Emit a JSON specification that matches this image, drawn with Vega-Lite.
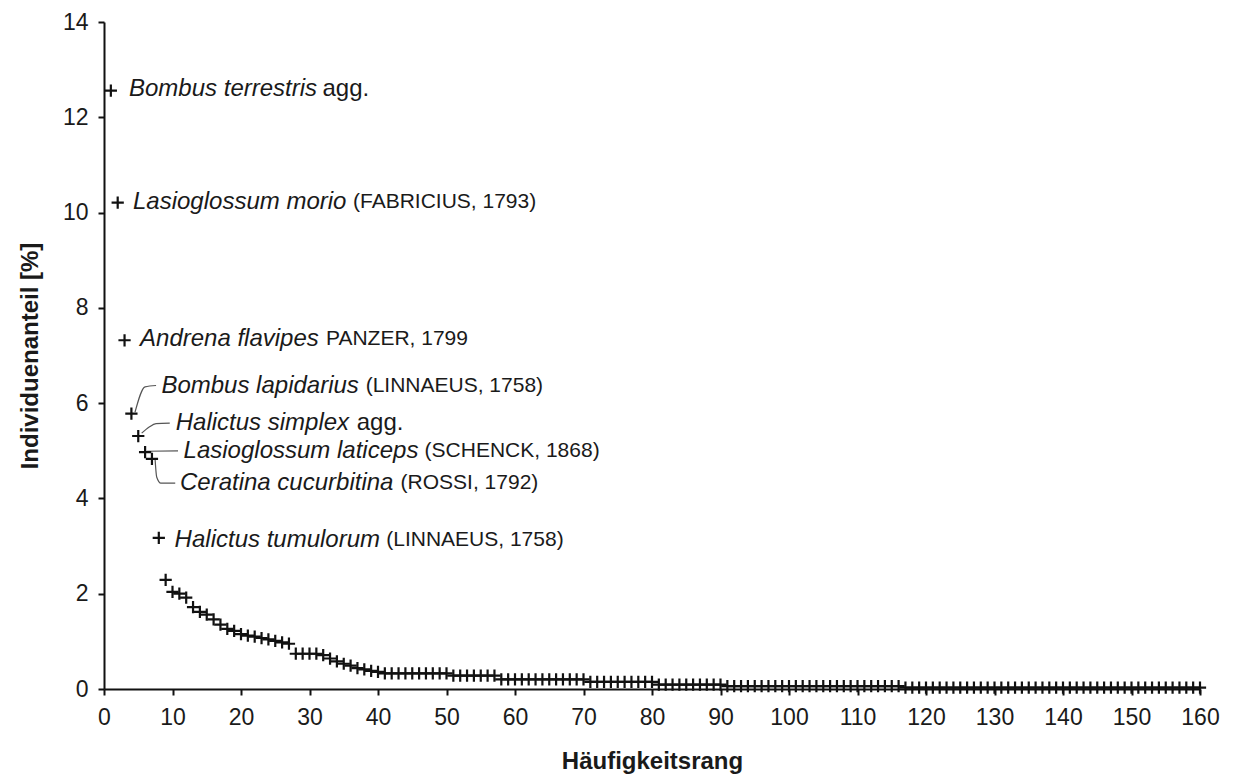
{
  "$schema": "https://vega.github.io/schema/vega-lite/v6.json",
  "width": 1096,
  "height": 667,
  "autosize": "none",
  "padding": {"left": 104, "top": 22, "right": 34, "bottom": 86},
  "background": "white",
  "config": {
    "view": {"stroke": null},
    "font": "Liberation Sans",
    "axis": {
      "grid": false,
      "domainColor": "#111111",
      "domainWidth": 2,
      "tickColor": "#111111",
      "tickWidth": 2,
      "tickSize": 6,
      "labelFlush": false,
      "labelFont": "Liberation Sans",
      "labelFontSize": 23,
      "labelColor": "#1a1a1a",
      "titleFont": "Liberation Sans",
      "titleFontSize": 24,
      "titleFontWeight": "bold",
      "titleColor": "#1a1a1a"
    }
  },
  "datasets": {
    "ranks": [
      {"r":1,"p":12.56},{"r":2,"p":10.21},{"r":3,"p":7.32},{"r":4,"p":5.78},{"r":5,"p":5.31},
      {"r":6,"p":4.97},{"r":7,"p":4.83},{"r":8,"p":3.17},{"r":9,"p":2.29},{"r":10,"p":2.04},
      {"r":11,"p":2.0},{"r":12,"p":1.92},{"r":13,"p":1.72},{"r":14,"p":1.62},{"r":15,"p":1.56},
      {"r":16,"p":1.46},{"r":17,"p":1.35},{"r":18,"p":1.26},{"r":19,"p":1.22},{"r":20,"p":1.15},
      {"r":21,"p":1.12},{"r":22,"p":1.1},{"r":23,"p":1.07},{"r":24,"p":1.04},{"r":25,"p":1.01},
      {"r":26,"p":0.98},{"r":27,"p":0.95},{"r":28,"p":0.74},{"r":29,"p":0.74},{"r":30,"p":0.74},
      {"r":31,"p":0.74},{"r":32,"p":0.71},{"r":33,"p":0.64},{"r":34,"p":0.58},{"r":35,"p":0.53},
      {"r":36,"p":0.49},{"r":37,"p":0.44},{"r":38,"p":0.41},{"r":39,"p":0.38},{"r":40,"p":0.36},
      {"r":41,"p":0.33},{"r":42,"p":0.33},{"r":43,"p":0.33},{"r":44,"p":0.33},{"r":45,"p":0.33},
      {"r":46,"p":0.33},{"r":47,"p":0.33},{"r":48,"p":0.33},{"r":49,"p":0.33},{"r":50,"p":0.33},
      {"r":51,"p":0.28},{"r":52,"p":0.28},{"r":53,"p":0.28},{"r":54,"p":0.28},{"r":55,"p":0.28},
      {"r":56,"p":0.28},{"r":57,"p":0.28},{"r":58,"p":0.2},{"r":59,"p":0.2},{"r":60,"p":0.2},
      {"r":61,"p":0.2},{"r":62,"p":0.2},{"r":63,"p":0.2},{"r":64,"p":0.2},{"r":65,"p":0.2},
      {"r":66,"p":0.2},{"r":67,"p":0.2},{"r":68,"p":0.2},{"r":69,"p":0.2},{"r":70,"p":0.2},
      {"r":71,"p":0.15},{"r":72,"p":0.15},{"r":73,"p":0.15},{"r":74,"p":0.15},{"r":75,"p":0.15},
      {"r":76,"p":0.15},{"r":77,"p":0.15},{"r":78,"p":0.15},{"r":79,"p":0.15},{"r":80,"p":0.15},
      {"r":81,"p":0.09},{"r":82,"p":0.09},{"r":83,"p":0.09},{"r":84,"p":0.09},{"r":85,"p":0.09},
      {"r":86,"p":0.09},{"r":87,"p":0.09},{"r":88,"p":0.09},{"r":89,"p":0.09},{"r":90,"p":0.09},
      {"r":91,"p":0.06},{"r":92,"p":0.06},{"r":93,"p":0.06},{"r":94,"p":0.06},{"r":95,"p":0.06},
      {"r":96,"p":0.06},{"r":97,"p":0.06},{"r":98,"p":0.06},{"r":99,"p":0.06},{"r":100,"p":0.06},
      {"r":101,"p":0.06},{"r":102,"p":0.06},{"r":103,"p":0.06},{"r":104,"p":0.06},{"r":105,"p":0.06},
      {"r":106,"p":0.06},{"r":107,"p":0.06},{"r":108,"p":0.06},{"r":109,"p":0.06},{"r":110,"p":0.06},
      {"r":111,"p":0.06},{"r":112,"p":0.06},{"r":113,"p":0.06},{"r":114,"p":0.06},{"r":115,"p":0.06},
      {"r":116,"p":0.06},{"r":117,"p":0.03},{"r":118,"p":0.03},{"r":119,"p":0.03},{"r":120,"p":0.03},
      {"r":121,"p":0.03},{"r":122,"p":0.03},{"r":123,"p":0.03},{"r":124,"p":0.03},{"r":125,"p":0.03},
      {"r":126,"p":0.03},{"r":127,"p":0.03},{"r":128,"p":0.03},{"r":129,"p":0.03},{"r":130,"p":0.03},
      {"r":131,"p":0.03},{"r":132,"p":0.03},{"r":133,"p":0.03},{"r":134,"p":0.03},{"r":135,"p":0.03},
      {"r":136,"p":0.03},{"r":137,"p":0.03},{"r":138,"p":0.03},{"r":139,"p":0.03},{"r":140,"p":0.03},
      {"r":141,"p":0.03},{"r":142,"p":0.03},{"r":143,"p":0.03},{"r":144,"p":0.03},{"r":145,"p":0.03},
      {"r":146,"p":0.03},{"r":147,"p":0.03},{"r":148,"p":0.03},{"r":149,"p":0.03},{"r":150,"p":0.03},
      {"r":151,"p":0.03},{"r":152,"p":0.03},{"r":153,"p":0.03},{"r":154,"p":0.03},{"r":155,"p":0.03},
      {"r":156,"p":0.03},{"r":157,"p":0.03},{"r":158,"p":0.03},{"r":159,"p":0.03},{"r":160,"p":0.03}
    ],
    "labels": [
      {"name":"Bombus terrestris","auth":"agg.","r":3.65,"p":12.6,"ax":31.9},
      {"name":"Lasioglossum morio","auth":"(FABRICIUS, 1793)","r":4.23,"p":10.22,"ax":36.35},
      {"name":"Andrena flavipes","auth":"PANZER, 1799","r":5.26,"p":7.35,"ax":32.4},
      {"name":"Bombus lapidarius","auth":"(LINNAEUS, 1758)","r":8.38,"p":6.37,"ax":38.2},
      {"name":"Halictus simplex","auth":"agg.","r":10.47,"p":5.58,"ax":36.9},
      {"name":"Lasioglossum laticeps","auth":"(SCHENCK, 1868)","r":11.62,"p":5.0,"ax":46.8},
      {"name":"Ceratina cucurbitina","auth":"(ROSSI, 1792)","r":11.09,"p":4.32,"ax":43.3},
      {"name":"Halictus tumulorum","auth":"(LINNAEUS, 1758)","r":10.31,"p":3.12,"ax":41.2}
    ],
    "leaders": [
      {"g":"a","o":1,"r":4.53,"p":5.81},{"g":"a","o":2,"r":5.99,"p":6.34},{"g":"a","o":3,"r":7.6,"p":6.37},
      {"g":"b","o":1,"r":5.5,"p":5.37},{"g":"b","o":2,"r":6.6,"p":5.5},{"g":"b","o":3,"r":7.6,"p":5.57},{"g":"b","o":4,"r":9.6,"p":5.58},
      {"g":"c","o":1,"r":6.23,"p":4.99},{"g":"c","o":2,"r":10.8,"p":5.0},
      {"g":"d","o":1,"r":7.45,"p":4.84},{"g":"d","o":2,"r":7.69,"p":4.45},{"g":"d","o":3,"r":8.3,"p":4.32},{"g":"d","o":4,"r":10.4,"p":4.32}
    ]
  },
  "layer": [
    {
      "data": {"name": "leaders"},
      "mark": {"type": "line", "stroke": "#555555", "strokeWidth": 1.2, "interpolate": "monotone"},
      "encoding": {
        "x": {"field": "r", "type": "quantitative", "scale": {"domain": [0, 160], "nice": false}, "title": "Häufigkeitsrang"},
        "y": {"field": "p", "type": "quantitative", "scale": {"domain": [0, 14], "nice": false}, "title": "Individuenanteil [%]"},
        "detail": {"field": "g"},
        "order": {"field": "o"}
      }
    },
    {
      "data": {"name": "ranks"},
      "mark": {"type": "point", "shape": "M-1,0H1M0,-1V1", "size": 150, "filled": false, "stroke": "#111111", "strokeWidth": 2.2, "opacity": 1},
      "encoding": {
        "x": {"field": "r", "type": "quantitative", "title": "Häufigkeitsrang",
              "axis": {"values": [0,10,20,30,40,50,60,70,80,90,100,110,120,130,140,150,160], "labelPadding": 11, "titlePadding": 20}},
        "y": {"field": "p", "type": "quantitative", "title": "Individuenanteil [%]",
              "axis": {"values": [0,2,4,6,8,10,12,14], "labelPadding": 10, "titlePadding": 20}}
      }
    },
    {
      "data": {"name": "labels"},
      "mark": {"type": "text", "align": "left", "baseline": "middle", "fontStyle": "italic", "fontSize": 24, "color": "#1a1a1a", "font": "Liberation Sans"},
      "encoding": {
        "x": {"field": "r", "type": "quantitative", "title": "Häufigkeitsrang"},
        "y": {"field": "p", "type": "quantitative", "title": "Individuenanteil [%]"},
        "text": {"field": "name"}
      }
    },
    {
      "data": {"name": "labels"},
      "transform": [{"filter": "datum.auth === 'agg.'"}],
      "mark": {"type": "text", "align": "left", "baseline": "middle", "fontSize": 24, "color": "#1a1a1a", "font": "Liberation Sans"},
      "encoding": {
        "x": {"field": "ax", "type": "quantitative", "title": "Häufigkeitsrang"},
        "y": {"field": "p", "type": "quantitative", "title": "Individuenanteil [%]"},
        "text": {"field": "auth"}
      }
    },
    {
      "data": {"name": "labels"},
      "transform": [{"filter": "datum.auth !== 'agg.'"}],
      "mark": {"type": "text", "align": "left", "baseline": "middle", "fontSize": 21, "color": "#1a1a1a", "font": "Liberation Sans"},
      "encoding": {
        "x": {"field": "ax", "type": "quantitative", "title": "Häufigkeitsrang"},
        "y": {"field": "p", "type": "quantitative", "title": "Individuenanteil [%]"},
        "text": {"field": "auth"}
      }
    }
  ]
}
